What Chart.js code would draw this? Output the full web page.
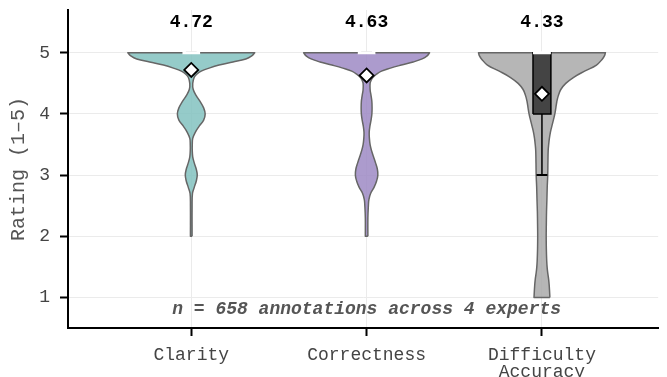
<!DOCTYPE html>
<html>
<head>
<meta charset="utf-8">
<script src="https://cdn.jsdelivr.net/npm/chart.js@4/dist/chart.umd.min.js"></script>
<style>
  html, body { margin: 0; padding: 0; background: #ffffff; }
  #wrap { width: 667px; height: 377px; }
</style>
</head>
<body>
<div id="wrap"><canvas id="chart" width="667" height="377"></canvas></div>
<script>
// ---- data -------------------------------------------------------------
const categories = ['Clarity', 'Correctness', 'Difficulty\nAccuracy'];
const yTicks = [1, 2, 3, 4, 5];
const means = [4.72, 4.63, 4.33];
const medians = [5, 5, 5];
const q1 = [5, 5, 4];
const q3 = [5, 5, 5];
const whiskerLow = [5, 5, 3];
const annotationText = 'n = 658 annotations across 4 experts';

// kernel density profiles (relative to each violin's widest point)
const clarityLevels = [5.00, 4.95, 4.90, 4.85, 4.80, 4.75, 4.70, 4.65, 4.60, 4.50, 4.40, 4.30, 4.20, 4.10, 4.00,
  3.90, 3.80, 3.70, 3.60, 3.50, 3.40, 3.30, 3.20, 3.10, 3.00, 2.90, 2.80, 2.70, 2.50, 2.00];
const clarityDensity = [1.000, 0.953, 0.859, 0.656, 0.438, 0.281, 0.156, 0.086, 0.047, 0.023, 0.031, 0.078, 0.141, 0.195, 0.219,
  0.195, 0.125, 0.063, 0.023, 0.016, 0.016, 0.023, 0.047, 0.078, 0.094, 0.078, 0.047, 0.019, 0.013, 0.013];

const correctnessLevels = [5.00, 4.95, 4.90, 4.85, 4.80, 4.75, 4.70, 4.65, 4.60, 4.55, 4.50, 4.40, 4.30, 4.20, 4.10, 4.00,
  3.90, 3.80, 3.70, 3.60, 3.50, 3.40, 3.30, 3.20, 3.10, 3.00, 2.90, 2.80, 2.70, 2.60, 2.50, 2.30, 2.00];
const correctnessDensity = [0.992, 0.953, 0.875, 0.734, 0.547, 0.375, 0.234, 0.156, 0.102, 0.070, 0.055, 0.055, 0.070, 0.083, 0.086, 0.083,
  0.070, 0.052, 0.041, 0.044, 0.055, 0.078, 0.109, 0.141, 0.169, 0.177, 0.156, 0.117, 0.063, 0.036, 0.028, 0.020, 0.020];

const difficultyLevels = [5.00, 4.95, 4.90, 4.80, 4.70, 4.60, 4.50, 4.40, 4.30, 4.20, 4.10, 4.00, 3.90, 3.80, 3.70, 3.60,
  3.50, 3.40, 3.20, 3.00, 2.80, 2.60, 2.40, 2.20, 2.00, 1.80, 1.60, 1.50, 1.40, 1.30, 1.20, 1.10, 1.00];
const difficultyDensity = [1.000, 0.984, 0.953, 0.859, 0.672, 0.500, 0.375, 0.297, 0.258, 0.234, 0.219, 0.203, 0.180, 0.156, 0.133, 0.117,
  0.106, 0.098, 0.094, 0.091, 0.083, 0.078, 0.072, 0.069, 0.067, 0.069, 0.075, 0.081, 0.091, 0.105, 0.114, 0.120, 0.125];

// ---- styling ----------------------------------------------------------
const FONT = '"Courier New", "Liberation Mono", "DejaVu Sans Mono", monospace';
const VIOLIN_HALF = 0.362;   // half width of the widest violin section, in category units
const BOX_HALF = 0.051;
const CAP_HALF = 0.031;
const violinFills = ['rgba(131,194,191,0.85)', 'rgba(157,137,196,0.85)', 'rgba(169,169,169,0.85)'];
const profiles = [
  [clarityLevels, clarityDensity],
  [correctnessLevels, correctnessDensity],
  [difficultyLevels, difficultyDensity]
];

// Closed outline of one violin: up the right side, across the top, down the left side.
// Corner points are repeated so the spline keeps the flat ends square.
function violinOutline(center, levels, density) {
  const n = levels.length;
  const pts = [];
  for (let i = n - 1; i >= 0; i--) {
    const p = { x: center + density[i] * VIOLIN_HALF, y: levels[i] };
    pts.push(p);
    if (i === n - 1 || i === 0) pts.push({ ...p });
  }
  for (let i = 0; i < n; i++) {
    const p = { x: center - density[i] * VIOLIN_HALF, y: levels[i] };
    pts.push(p);
    if (i === 0 || i === n - 1) pts.push({ ...p });
  }
  pts.push({ x: center + density[n - 1] * VIOLIN_HALF, y: levels[n - 1] });
  return pts;
}

const datasets = [];

profiles.forEach(([levels, density], i) => {
  datasets.push({
    type: 'line',
    data: violinOutline(i, levels, density),
    borderColor: '#666666',
    borderWidth: 1.5,
    backgroundColor: violinFills[i],
    fill: 'shape',
    tension: 0.4,
    pointRadius: 0,
    pointHitRadius: 0,
    borderJoinStyle: 'round',
    order: 6
  });
});

// boxes (Q1..Q3)
categories.forEach((_, i) => {
  datasets.push({
    type: 'line',
    data: [
      { x: i - BOX_HALF, y: q1[i] }, { x: i + BOX_HALF, y: q1[i] },
      { x: i + BOX_HALF, y: q3[i] }, { x: i - BOX_HALF, y: q3[i] },
      { x: i - BOX_HALF, y: q1[i] }
    ],
    borderColor: '#000000',
    borderWidth: 1.5,
    backgroundColor: '#444444',
    fill: 'shape',
    tension: 0,
    pointRadius: 0,
    pointHitRadius: 0,
    order: 5
  });
  // lower whisker and its cap
  datasets.push({
    type: 'line',
    data: [{ x: i, y: q1[i] }, { x: i, y: whiskerLow[i] }],
    borderColor: '#000000', borderWidth: 1.5, fill: false, tension: 0,
    pointRadius: 0, pointHitRadius: 0, order: 4
  });
  datasets.push({
    type: 'line',
    data: [{ x: i - CAP_HALF, y: whiskerLow[i] }, { x: i + CAP_HALF, y: whiskerLow[i] }],
    borderColor: '#000000', borderWidth: 2, fill: false, tension: 0,
    pointRadius: 0, pointHitRadius: 0, order: 4
  });
  // median line
  datasets.push({
    type: 'line',
    data: [{ x: i - BOX_HALF, y: medians[i] }, { x: i + BOX_HALF, y: medians[i] }],
    borderColor: '#ffffff', borderWidth: 3, fill: false, tension: 0,
    pointRadius: 0, pointHitRadius: 0, order: 3
  });
});

// means
datasets.push({
  type: 'scatter',
  data: means.map((m, i) => ({ x: i, y: m })),
  pointStyle: 'rectRot',
  pointRadius: 7,
  pointHoverRadius: 7,
  backgroundColor: '#ffffff',
  borderColor: '#000000',
  borderWidth: 1.8,
  order: 1
});

// mean values above each violin, plus the sample-size note
const labelPlugin = {
  id: 'violinLabels',
  afterDatasetsDraw(chart) {
    const { ctx, scales: { x, y } } = chart;
    ctx.save();
    ctx.textAlign = 'center';
    ctx.textBaseline = 'middle';
    ctx.fillStyle = '#000000';
    ctx.font = 'bold 18px ' + FONT;
    means.forEach((m, i) => {
      ctx.fillText(m.toFixed(2), x.getPixelForValue(i), y.getPixelForValue(5.5));
    });
    ctx.fillStyle = '#555555';
    ctx.font = 'italic bold 18px ' + FONT;
    ctx.fillText(annotationText, x.getPixelForValue(1), y.getPixelForValue(0.8));
    ctx.restore();
  }
};

new Chart(document.getElementById('chart'), {
  type: 'scatter',
  data: { datasets },
  plugins: [labelPlugin],
  options: {
    responsive: false,
    animation: false,
    devicePixelRatio: 1,
    layout: { padding: { top: 10, right: 1, left: 0, bottom: 0 } },
    plugins: { legend: { display: false }, tooltip: { enabled: false } },
    scales: {
      x: {
        type: 'linear',
        min: -0.703,
        max: 2.663,
        afterBuildTicks: (s) => { s.ticks = categories.map((_, i) => ({ value: i })); },
        afterFit: (s) => { s.height = 49; s.paddingLeft = 0; s.paddingRight = 0; },
        ticks: {
          callback: (v) => categories[Math.round(v)].split('\n'),
          font: { family: FONT, size: 18, lineHeight: 0.95 },
          color: '#444444',
          padding: 11,
          maxRotation: 0,
          autoSkip: false
        },
        grid: { color: '#ebebeb', lineWidth: 1, tickColor: '#000000', tickLength: 8, tickWidth: 2 },
        border: { color: '#000000', width: 2 }
      },
      y: {
        type: 'linear',
        min: 0.5,
        max: 5.7,
        afterBuildTicks: (s) => { s.ticks = yTicks.map((v) => ({ value: v })); },
        afterFit: (s) => { s.width = 68; s.paddingTop = 0; s.paddingBottom = 0; },
        ticks: {
          font: { family: FONT, size: 18 },
          color: '#444444',
          padding: 10
        },
        grid: { color: '#ebebeb', lineWidth: 1, tickColor: '#000000', tickLength: 8, tickWidth: 2 },
        border: { color: '#000000', width: 2 },
        title: {
          display: true,
          text: 'Rating (1–5)',
          font: { family: FONT, size: 20 },
          color: '#555555',
          padding: { top: 7, bottom: 0 }
        }
      }
    }
  }
});
</script>
</body>
</html>
